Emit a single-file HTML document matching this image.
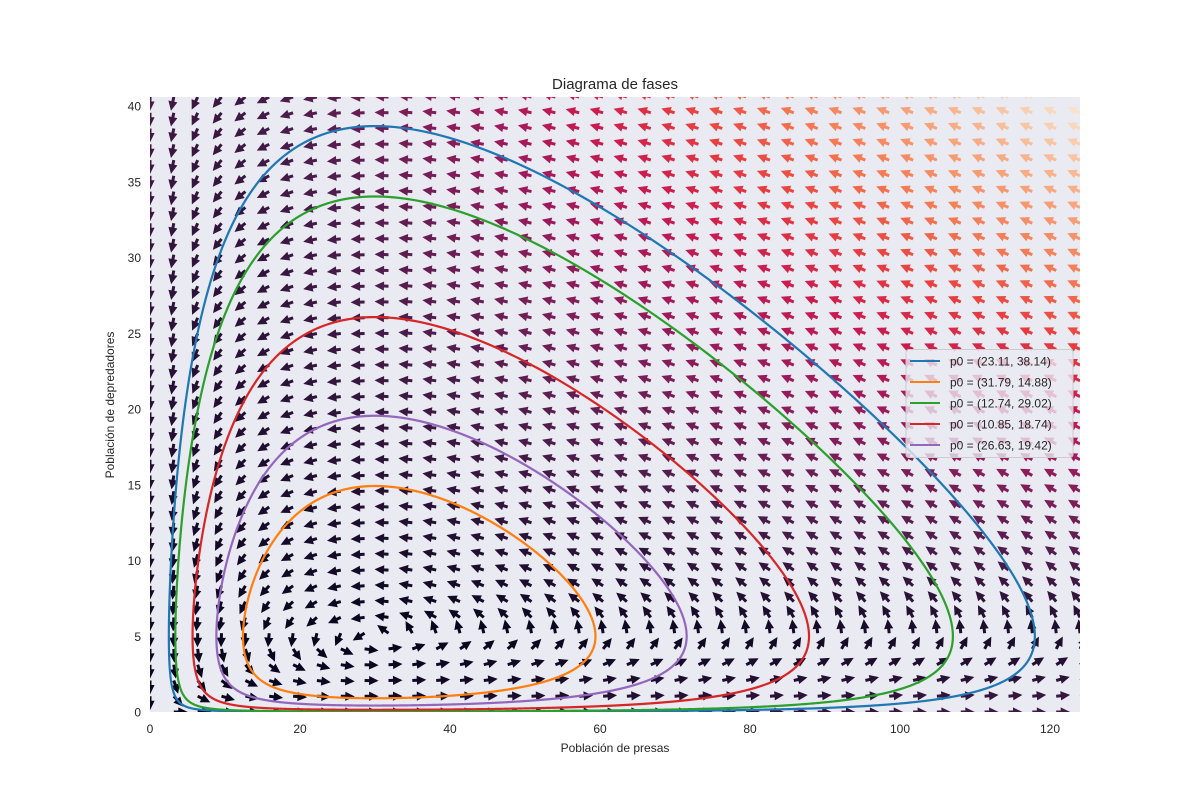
<!DOCTYPE html>
<html><head><meta charset="utf-8">
<style>
body{margin:0;background:#fff;}
svg{display:block;font-family:"Liberation Sans",sans-serif;}
</style></head>
<body>
<svg id="chart" width="1200" height="800" viewBox="0 0 1200 800" xmlns="http://www.w3.org/2000/svg">
<rect x="0" y="0" width="1200" height="800" fill="#fff"/>
<text x="615" y="89" font-size="15" text-anchor="middle" fill="#262626">Diagrama de fases</text>
<rect x="150" y="97" width="930" height="615" fill="#EAEAF2"/>
<g id="quiver"></g>
<g id="orbits"></g>
<g id="axes"></g>
<text x="615" y="752" font-size="12" text-anchor="middle" fill="#262626">Población de presas</text>
<text transform="translate(114,405) rotate(-90)" font-size="12" text-anchor="middle" fill="#262626">Población de depredadores</text>
<g id="legend"></g>
</svg>
<script>
const NS="http://www.w3.org/2000/svg";
// model parameters (Lotka-Volterra)
const params=[1/3,1/15,1,1/30]; // a,b,c,d
// initial conditions
const p0x=[23.11,31.79,12.74,10.85,26.63];
const p0y=[38.14,14.88,29.02,18.74,19.42];
const seriesColors=["#1f77b4","#ff7f0e","#2ca02c","#d62728","#9467bd"];
const xTicks=[0,20,40,60,80,100,120];
const yTicks=[0,5,10,15,20,25,30,35,40];
const xMax=124,yMax=40.6,gridN=40;

const X0=150,X1=1080,Y0=712,Y1=97;
const sx=v=>X0+v/xMax*(X1-X0);
const sy=v=>Y0-v/yMax*(Y0-Y1);
const [a,b,c,d]=params;
const f=(x,y)=>[x*(a-b*y),y*(-c+d*x)];

function mk(tag,attrs,parent){const e=document.createElementNS(NS,tag);for(const k in attrs)e.setAttribute(k,attrs[k]);parent.appendChild(e);return e;}

// rocket colormap
const stops=[[0,[3,5,26]],[0.1,[40,18,54]],[0.2,[76,29,75]],[0.3,[118,30,87]],[0.4,[161,26,91]],[0.5,[203,27,79]],[0.6,[232,63,63]],[0.7,[243,118,81]],[0.8,[246,156,115]],[0.9,[248,195,160]],[1,[250,235,221]]];
function cmap(t){t=Math.max(0,Math.min(1,t));for(let i=1;i<stops.length;i++){if(t<=stops[i][0]){const [t0,c0]=stops[i-1],[t1,c1]=stops[i];const u=(t-t0)/(t1-t0);return `rgb(${c0.map((v,j)=>Math.round(v+(c1[j]-v)*u)).join(',')})`;}}return 'rgb(250,235,221)';}

// quiver
const q=document.getElementById('quiver');
let pts=[],mn=1e9,mx=0;
for(let i=0;i<gridN;i++)for(let j=0;j<gridN;j++){const x=xMax*i/(gridN-1),y=yMax*j/(gridN-1);const [u,v]=f(x,y);const m=Math.hypot(u,v);pts.push([x,y,u,v,m]);mn=Math.min(mn,m);mx=Math.max(mx,m);}
const L=14,hl=9.5,sw=1.5,hw=4.6;
for(const [x,y,u,v,m] of pts){
  if(m===0)continue;
  const ang=Math.atan2(-v,u)*180/Math.PI;
  const poly=`0,${-sw} ${L-hl},${-sw} ${L-hl},${-hw} ${L},0 ${L-hl},${hw} ${L-hl},${sw} 0,${sw}`;
  const p=mk('polygon',{points:poly,transform:`translate(${sx(x).toFixed(1)},${sy(y).toFixed(1)}) rotate(${ang.toFixed(1)})`,fill:cmap(Math.pow((m-mn)/(mx-mn),0.85))},q);
  
  
}
// clip
const defs=mk('defs',{},document.getElementById('chart'));
const cp=mk('clipPath',{id:'clip'},defs);mk('rect',{x:X0,y:Y1,width:X1-X0,height:Y0-Y1},cp);
q.setAttribute('clip-path','url(#clip)');

// trajectories via RK4
const og=document.getElementById('orbits');
for(let k=0;k<p0x.length;k++){
  let x=p0x[k],y=p0y[k];const dt=0.01;let path=`M${sx(x).toFixed(2)},${sy(y).toFixed(2)}`;
  for(let s=0;s<4000;s++){
    const k1=f(x,y),k2=f(x+dt/2*k1[0],y+dt/2*k1[1]),k3=f(x+dt/2*k2[0],y+dt/2*k2[1]),k4=f(x+dt*k3[0],y+dt*k3[1]);
    x+=dt/6*(k1[0]+2*k2[0]+2*k3[0]+k4[0]);y+=dt/6*(k1[1]+2*k2[1]+2*k3[1]+k4[1]);
    path+=`L${sx(x).toFixed(2)},${sy(y).toFixed(2)}`;
  }
  const p=mk('path',{d:path,fill:'none',stroke:seriesColors[k],'stroke-width':2.2},og);
  
  
}
og.setAttribute('clip-path','url(#clip)');

// axes ticks
const ax=document.getElementById('axes');
for(const t of xTicks){const e=mk('text',{x:sx(t),y:Y0+21,'font-size':12,'text-anchor':'middle',fill:'#262626'},ax);e.textContent=t;
  
  }
for(const t of yTicks){const e=mk('text',{x:X0-9,y:sy(t)+4.5,'font-size':12,'text-anchor':'end',fill:'#262626'},ax);e.textContent=t;
  
  }

// legend
const lg=document.getElementById('legend');
mk('rect',{x:906,y:349.5,width:167,height:108,rx:3,fill:'#EAEAF2','fill-opacity':0.8,stroke:'#cccccc'},lg);
for(let k=0;k<p0x.length;k++){
  const yy=361+k*21;
  const g=mk('g',{},lg);
  
  
  mk('line',{x1:910,x2:940,y1:yy,y2:yy,stroke:seriesColors[k],'stroke-width':2},g);
  const t=mk('text',{x:950,y:yy+4.5,'font-size':12,fill:'#262626'},g);
  t.textContent=`p0 = (${p0x[k].toFixed(2)}, ${p0y[k].toFixed(2)})`;
}
</script>
</body></html>
